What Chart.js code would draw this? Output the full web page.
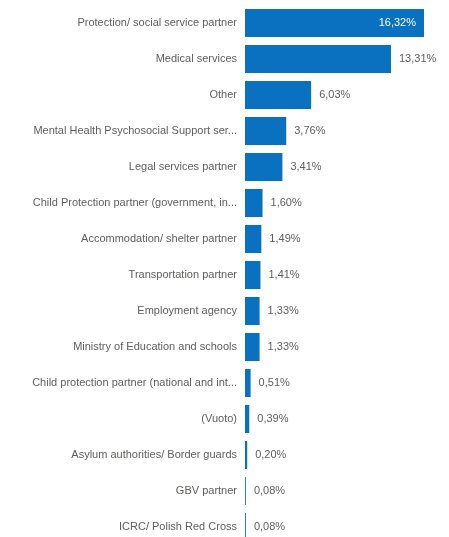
<!DOCTYPE html>
<html>
<head>
<meta charset="utf-8">
<script src="https://cdn.jsdelivr.net/npm/chart.js@4/dist/chart.umd.min.js"></script>
<style>
  html, body { margin: 0; padding: 0; background: #fff; overflow: hidden; }
  #c { display: block; }
</style>
</head>
<body>
<canvas id="c" width="449" height="550" style="width:449px;height:550px"></canvas>
<script>
const categories = [
  "Protection/ social service partner",
  "Medical services",
  "Other",
  "Mental Health Psychosocial Support ser...",
  "Legal services partner",
  "Child Protection partner (government, in...",
  "Accommodation/ shelter partner",
  "Transportation partner",
  "Employment agency",
  "Ministry of Education and schools",
  "Child protection partner (national and int...",
  "(Vuoto)",
  "Asylum authorities/ Border guards",
  "GBV partner",
  "ICRC/ Polish Red Cross"
];
const values = [16.32, 13.31, 6.03, 3.76, 3.41, 1.60, 1.49, 1.41, 1.33, 1.33, 0.51, 0.39, 0.20, 0.08, 0.08];

const FONT = "'Liberation Sans', Arial, sans-serif";
const TEXT = '#605e5c';
const fmt = v => v.toFixed(2).replace('.', ',') + '%';

const labelPlugin = {
  id: 'valueLabels',
  afterDatasetsDraw(chart) {
    const ctx = chart.ctx;
    const area = chart.chartArea;
    const meta = chart.getDatasetMeta(0);
    ctx.save();
    ctx.font = '11px ' + FONT;
    ctx.textBaseline = 'middle';
    meta.data.forEach((bar, i) => {
      const txt = fmt(values[i]);
      const w = ctx.measureText(txt).width;
      const pad = 8;
      if (bar.x + pad + w > area.right) {
        ctx.fillStyle = '#ffffff';
        ctx.textAlign = 'right';
        ctx.fillText(txt, bar.x - pad, bar.y);
      } else {
        ctx.fillStyle = TEXT;
        ctx.textAlign = 'left';
        ctx.fillText(txt, bar.x + pad, bar.y);
      }
    });
    ctx.restore();
  }
};

new Chart(document.getElementById('c'), {
  type: 'bar',
  data: {
    labels: categories,
    datasets: [{
      data: values,
      backgroundColor: '#0a70c0',
      borderWidth: 0,
      barPercentage: 0.78,
      categoryPercentage: 1.0
    }]
  },
  options: {
    indexAxis: 'y',
    responsive: false,
    animation: false,
    devicePixelRatio: 1,
    layout: { padding: { top: 5, bottom: 5, left: 0, right: 0 } },
    plugins: { legend: { display: false }, tooltip: { enabled: false } },
    scales: {
      x: { display: false, min: 0, max: 18.6 },
      y: {
        grid: { display: false, drawTicks: false },
        border: { display: false },
        ticks: { color: TEXT, font: { size: 11, family: FONT }, padding: 8, autoSkip: false },
        afterFit(scale) { scale.width = 245; scale.paddingTop = 0; scale.paddingBottom = 0; }
      }
    }
  },
  plugins: [labelPlugin]
});
</script>
</body>
</html>
